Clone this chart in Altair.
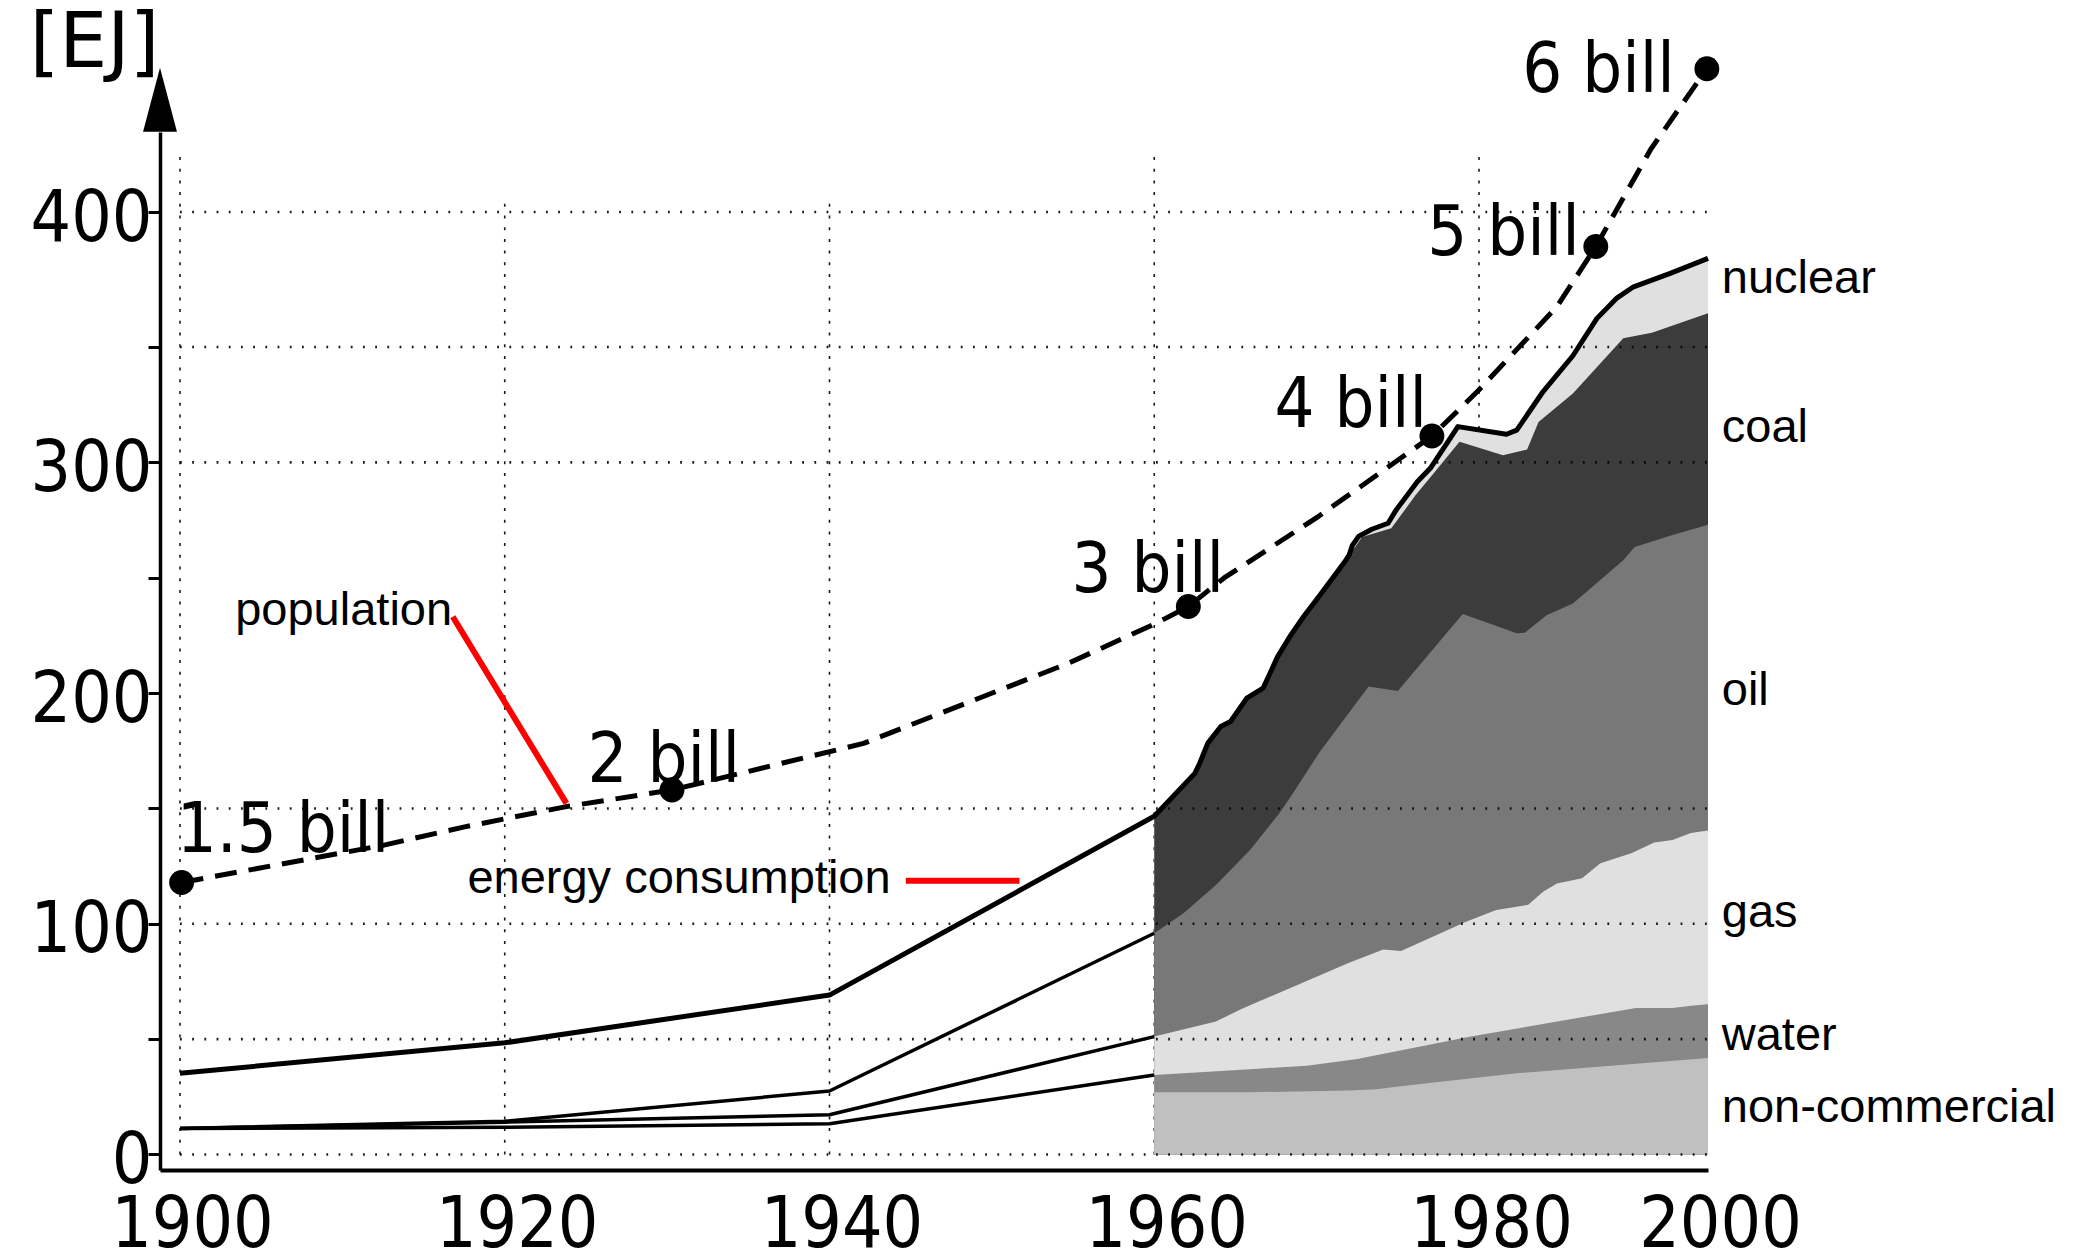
import altair as alt
import pandas as pd

# ---------------- data ----------------
# 1900-1960: cumulative boundary lines (EJ)
pre_years = [1900, 1920, 1940, 1960]
pre_total = [35.2, 48.4, 69.1, 146.6]
pre_oil_top = [11.3, 14.4, 27.5, 95.9]
pre_gas_top = [11.3, 14.0, 17.2, 51.1]
pre_water_top = [11.3, 11.8, 13.3, 34.5]

# 1960-2000: cumulative tops of the stacked layers (EJ)
total_years = [1960, 1962.5, 1962.8, 1963.3, 1964.1, 1964.7, 1965.7, 1966.7, 1967.6, 1968.4,
               1969.2, 1970.2, 1971.8, 1972.0, 1972.2, 1972.6, 1973.4, 1974.4, 1974.9, 1976.2,
               1977.0, 1978.7, 1982.4, 1983.3, 1985.6, 1988.2, 1990.3, 1992.0, 1993.5, 1996.7, 2000]
total_vals = [146.6, 165.2, 169.6, 178.3, 185.5, 187.7, 197.8, 202.1, 215.8, 225.0,
              233.2, 242.4, 257.6, 259.8, 264.0, 268.0, 271.0, 273.6, 279.4, 291.6,
              297.4, 315.5, 312.2, 314.0, 330.7, 346.2, 360.6, 368.0, 372.3, 377.3, 382.8]

coal_years = [1960, 1962.5, 1962.8, 1963.3, 1964.1, 1964.7, 1965.7, 1966.7, 1967.6, 1968.4,
              1969.2, 1970.2, 1971.8, 1972.0, 1972.8, 1974.6, 1976.1, 1977.2, 1978.8, 1982.1,
              1984.2, 1985.2, 1988.2, 1992.6, 1995.1, 2000]
coal_vals = [146.6, 165.2, 169.6, 178.3, 185.5, 187.7, 197.8, 202.1, 215.8, 225.0,
             233.2, 242.4, 257.6, 259.6, 267.7, 271.4, 285.8, 295.2, 308.9, 303.1,
             305.6, 317.5, 329.8, 353.2, 355.3, 362.5]

oil_years = [1960, 1961.8, 1963.8, 1965.9, 1967.7, 1968.4, 1970.2, 1973.2, 1975.0, 1979.0,
             1983.3, 1984.0, 1985.9, 1988.2, 1992.6, 1993.6, 1996.9, 2000]
oil_vals = [95.9, 104.6, 116.8, 132.0, 147.9, 155.1, 174.6, 202.8, 200.9, 234.3,
            225.9, 226.1, 233.7, 238.8, 257.6, 263.3, 268.5, 273.0]

gas_years = [1960, 1963.8, 1965.3, 1972.0, 1974.1, 1975.2, 1979.2, 1981.5, 1984.3, 1985.6,
             1986.8, 1989.0, 1990.6, 1993.3, 1995.3, 1996.9, 1998.5, 2000]
gas_vals = [51.1, 57.6, 62.9, 83.1, 88.9, 88.2, 100.9, 106.0, 108.2, 113.9,
            117.5, 119.7, 126.2, 130.6, 135.2, 136.3, 139.3, 140.4]

water_years = [1960, 1965.9, 1969.4, 1972.5, 1975.3, 1979.5, 1986.2, 1993.7, 1996.9, 1998.5, 2000]
water_vals = [34.5, 37.0, 38.5, 41.4, 45.3, 51.1, 57.1, 63.5, 63.5, 64.5, 65.1]

noncomm_years = [1960, 1965.9, 1972.0, 1973.7, 1975.3, 1983.3, 1996.7, 2000]
noncomm_vals = [27.0, 27.0, 27.7, 28.3, 29.7, 35.2, 40.5, 41.8]

# population curve (drawn on the EJ scale)
pop_years = [1900.1, 1912.5, 1917.6, 1923.8, 1930.3, 1942.1, 1954.7, 1960.1, 1962.1, 1964.3,
             1970.1, 1977.1, 1979.9, 1986.8, 1990.2, 1995.0, 1999.9]
pop_vals = [117.9, 134.0, 142.1, 150.8, 158.0, 178.2, 212.9, 230.2, 237.5, 249.9,
            276.5, 311.4, 330.7, 364.9, 387.2, 423.2, 453.0]

dot_years = [1900.1, 1930.3, 1962.1, 1977.1, 1990.2, 1999.9]
dot_vals = [117.9, 158.0, 237.5, 311.4, 387.2, 453.0]
dot_labels = ["1.5 bill", "2 bill", "3 bill", "4 bill", "5 bill", "6 bill"]
dot_label_x = [1899.8, 1925.1, 1964.3, 1976.8, 1988.8, 1997.1]
dot_label_y = [130.9, 161.6, 243.8, 315.3, 384.1, 444.4]
dot_label_align = ["left", "left", "right", "right", "right", "right"]

series_names = ["nuclear", "coal", "oil", "gas", "water", "non-commercial"]
series_label_y = [370.0, 308.8, 194.8, 98.7, 45.4, 14.1]
series_label_x = 2001.2

note_texts = ["population", "energy consumption"]
note_x = [1903.4, 1917.7]
note_y = [229.5, 113.2]
leader_x = [1916.8, 1944.7]
leader_x2 = [1923.8, 1951.7]
leader_y = [233.1, 118.6]
leader_y2 = [152.2, 118.6]

x_ticks = [1900, 1920, 1940, 1960, 1980, 2000]
y_ticks = [0, 50, 100, 150, 200, 250, 300, 350, 400]
vgrid_years = [1900, 1920, 1940, 1960, 1980]
vgrid_tops = [422.3, 405.7, 405.7, 422.5, 422.5]
hgrid_vals = [0, 50, 100, 150, 300, 350, 400]

COND = "DejaVu Sans Condensed, DejaVu Sans"
SANS = "Liberation Sans, Arial"

# ---------------- scales & axes ----------------
xs = alt.Scale(domain=[1898.77, 1980, 2000], range=[0, 1319, 1548], nice=False, zero=False)
ys = alt.Scale(domain=[-6.72, 350, 400, 429.6], range=[1038, 215, 80, 0], nice=False, zero=False)

xaxis = alt.Axis(values=x_ticks, format="d", title=None, grid=False, ticks=False, tickSize=0,
                 domainColor="black", domainWidth=4, labelFont=COND, labelFontSize=71,
                 labelColor="black", labelPadding=20, labelOffset=12, labelFlush=False,
                 labelOverlap=False)
yaxis = alt.Axis(values=y_ticks, format="d", labelExpr="datum.value % 100 === 0 ? datum.label : ''",
                 title="[EJ]", titleAngle=0, titleX=-66, titleY=-66, titleAlign="center",
                 titleBaseline="alphabetic", titleFont="DejaVu Sans", titleFontSize=76,
                 titleFontWeight="normal", titleColor="black", grid=False, tickSize=12,
                 tickWidth=3, tickColor="black", domainColor="black", domainWidth=3.5,
                 labelFont=COND, labelFontSize=71, labelPadding=-4, labelOffset=7,
                 labelColor="black", labelOverlap=False, labelFlush=False)


def X(f="x"):
    return alt.X(f"{f}:Q", scale=xs, axis=xaxis)


def Y(f="y"):
    return alt.Y(f"{f}:Q", scale=ys, axis=yaxis, stack=None)


def df(xv, yv):
    return pd.DataFrame({"x": xv, "y": yv, "base": [0] * len(xv)})


def area(xv, yv, color):
    return alt.Chart(df(xv, yv)).mark_area(color=color, opacity=1, strokeWidth=0).encode(
        x=X(), y=Y(), y2=alt.Y2("base:Q"))


def line(xv, yv, width, dash=None):
    kw = dict(color="black", strokeWidth=width, strokeJoin="round")
    if dash:
        kw["strokeDash"] = dash
    return alt.Chart(df(xv, yv)).mark_line(**kw).encode(x=X(), y=Y())


# ---------------- layers ----------------
vgrid = alt.Chart(pd.DataFrame({"x": vgrid_years, "y": [0] * 5, "y2": vgrid_tops})).mark_rule(
    color="black", strokeWidth=1.6, strokeDash=[3, 8.7], opacity=0.9).encode(
    x=X(), y=Y(), y2=alt.Y2("y2:Q"))

hgrid = alt.Chart(pd.DataFrame({"y": hgrid_vals, "x": [1900] * 7, "x2": [2000.3] * 7})).mark_rule(
    color="black", strokeWidth=2.6, strokeDash=[1.8, 10.4], opacity=0.9).encode(
    y=Y(), x=X(), x2=alt.X2("x2:Q"))

areas = [
    area(total_years, total_vals, "#e0e0e0"),
    area(coal_years, coal_vals, "#3c3c3c"),
    area(oil_years, oil_vals, "#787878"),
    area(gas_years, gas_vals, "#e0e0e0"),
    area(water_years, water_vals, "#888888"),
    area(noncomm_years, noncomm_vals, "#c0c0c0"),
]

lines = [
    line(pre_years, pre_water_top, 3.5),
    line(pre_years, pre_gas_top, 3.5),
    line(pre_years, pre_oil_top, 3.5),
    line(pre_years[:-1] + total_years, pre_total[:-1] + total_vals, 5),
]

pop_line = line(pop_years, pop_vals, 5, dash=[22, 12])
pop_dots = alt.Chart(df(dot_years, dot_vals)).mark_circle(size=620, color="black", opacity=1).encode(
    x=X(), y=Y())

leaders = alt.Chart(pd.DataFrame({"x": leader_x, "x2": leader_x2, "y": leader_y, "y2": leader_y2})).mark_rule(
    color="#ff0000", strokeWidth=6).encode(x=X(), x2=alt.X2("x2:Q"), y=Y(), y2=alt.Y2("y2:Q"))

lab_df = pd.DataFrame({"x": dot_label_x, "y": dot_label_y, "t": dot_labels, "a": dot_label_align})
bill_left = alt.Chart(lab_df[lab_df.a == "left"]).mark_text(
    font=COND, fontSize=70, align="left", baseline="alphabetic", color="black").encode(
    x=X(), y=Y(), text="t:N")
bill_right = alt.Chart(lab_df[lab_df.a == "right"]).mark_text(
    font=COND, fontSize=70, align="right", baseline="alphabetic", color="black").encode(
    x=X(), y=Y(), text="t:N")

series_labels = alt.Chart(pd.DataFrame({"x": [series_label_x] * 6, "y": series_label_y, "t": series_names})).mark_text(
    font=SANS, fontSize=47, align="left", baseline="alphabetic", color="black").encode(
    x=X(), y=Y(), text="t:N")

notes = alt.Chart(pd.DataFrame({"x": note_x, "y": note_y, "t": note_texts})).mark_text(
    font=SANS, fontSize=47, align="left", baseline="alphabetic", color="black").encode(
    x=X(), y=Y(), text="t:N")

arrow = alt.Chart(pd.DataFrame({"x": [1898.77], "y": [441.5]})).mark_point(
    shape="M0,-1L0.53,1L-0.53,1Z", size=4096, filled=True, fill="black", color="black",
    strokeWidth=0, opacity=1).encode(x=X(), y=Y())

chart = alt.layer(
    vgrid, *areas, hgrid, *lines, pop_line, pop_dots, leaders,
    bill_left, bill_right, series_labels, notes, arrow
).properties(
    width=1548, height=1038,
    autosize=alt.AutoSizeParams(type="none"),
    padding={"left": 152, "top": 124, "right": 364, "bottom": 82},
).configure(
    background="white",
    view=alt.ViewConfig(stroke=None, strokeWidth=0),
)

chart.save("out.html", embed_options={"renderer": "svg", "actions": False})
